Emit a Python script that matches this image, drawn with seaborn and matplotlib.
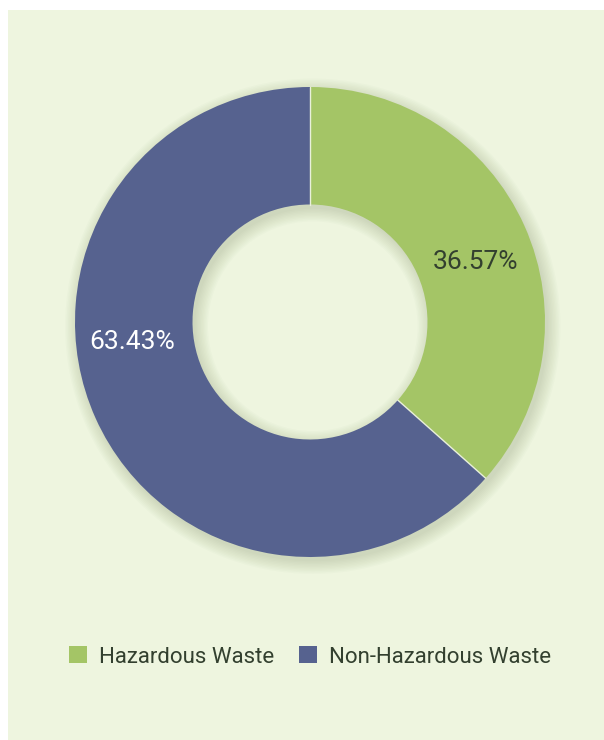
import numpy as np
import matplotlib.pyplot as plt
import seaborn as sns
from matplotlib.patches import Rectangle, Wedge, Patch

categories = ["Hazardous Waste", "Non-Hazardous Waste"]
shares = [36.57, 63.43]
colors = ["#a4c566", "#56628f"]
label_colors = ["#33402f", "#ffffff"]

sns.set_theme(style="white")
plt.rcParams['font.family'] = ['Roboto', 'DejaVu Sans']

W, H = 604, 740
fig = plt.figure(figsize=(W / 100, H / 100), dpi=100)
fig.patch.set_facecolor("white")

# light green panel behind everything
fig.add_artist(Rectangle((8 / W, 0), 1, (H - 10) / H, transform=fig.transFigure,
                         facecolor="#eef5df", edgecolor="none", zorder=0))

# donut centre (310, 322) px, radius 235 px
cx, cy, r = 310, 322, 235
ax = fig.add_axes([(cx - r) / W, (H - cy - r) / H, 2 * r / W, 2 * r / H])
ax.set_facecolor("none")

# soft shadow
for i in range(10):
    ax.add_patch(Wedge((0.012, -0.018), 1.0 + 0.006 * i, 0, 360, width=0.5 + 0.012 * i,
                       facecolor="#6a7a50", edgecolor="none", alpha=0.022, zorder=1,
                       clip_on=False))

wedges, _ = ax.pie(shares, colors=colors, startangle=90, counterclock=False,
                   radius=1.0, wedgeprops=dict(width=0.5, edgecolor="none"))
for w in wedges:
    w.set_zorder(2)
    w.set_clip_on(False)

# thin light separators between the slices
for w in wedges:
    t = np.deg2rad(w.theta1)
    ax.plot([0.5 * np.cos(t), np.cos(t)], [0.5 * np.sin(t), np.sin(t)],
            color="#e9f0da", lw=1.0, zorder=2.5, clip_on=False)

ax.set_xlim(-1, 1)
ax.set_ylim(-1, 1)
ax.set_aspect("equal")
ax.axis("off")

# label positions (data coords)
label_pos = [(0.704, 0.257), (-0.757, -0.085)]
for val, (x, y), c in zip(shares, label_pos, label_colors):
    ax.text(x, y, f"{val:.2f}%", ha="center", va="center", fontsize=19, color=c, zorder=3)

handles = [Patch(facecolor=c, edgecolor="none") for c in colors]
fig.legend(handles, categories, loc="center", bbox_to_anchor=(310 / W, 1 - 657 / H),
           ncol=2, frameon=False, fontsize=16, handlelength=0.8, handleheight=0.8,
           handletextpad=0.55, columnspacing=1.1, labelcolor="#33402f")

fig.savefig("out.png", dpi=100)
